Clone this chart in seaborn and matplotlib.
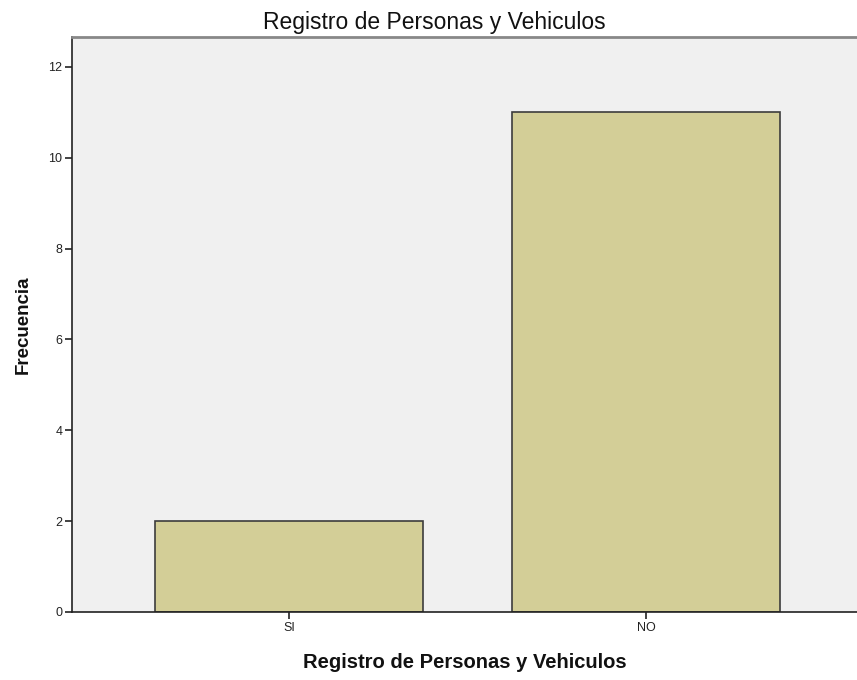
import matplotlib
matplotlib.use("Agg")
import matplotlib.pyplot as plt
import seaborn as sns
import pandas as pd

categories = ["SI", "NO"]
frecuencia = [2, 11]
y_ticks = [0, 2, 4, 6, 8, 10, 12]

sns.set_style("white")
plt.rcParams['font.family'] = ['Liberation Sans', 'DejaVu Sans']

df = pd.DataFrame({"registro": categories, "frecuencia": frecuencia})

fig = plt.figure(figsize=(8.57, 6.8), dpi=100)
ax = fig.add_axes([72 / 857, 68 / 680, 785 / 857, 575 / 680])
ax.set_facecolor("#F0F0F0")

sns.barplot(data=df, x="registro", y="frecuencia", order=categories,
            color="#D3CE97", saturation=1, width=0.75,
            edgecolor="#3C3C3C", linewidth=1.2, ax=ax)

ax.set_xlim(-0.608, 1.591)
ax.set_ylim(0, 12.66)
ax.set_yticks(y_ticks)
ax.tick_params(axis="both", direction="out", length=5, width=1.2,
               color="#222222", labelsize=9, pad=2, labelcolor="#222222")
ax.tick_params(axis="y", left=True)
ax.tick_params(axis="x", bottom=True)

for side in ["left", "bottom"]:
    ax.spines[side].set_color("#222222")
    ax.spines[side].set_linewidth(1.2)
ax.spines["top"].set_color("#888888")
ax.spines["top"].set_linewidth(2)
ax.spines["right"].set_visible(False)

# title is centred on the figure, not the axes
ax.set_title("Registro de Personas y Vehiculos", fontsize=16.5, pad=6,
             x=(434 - 72) / 785, color="#111111")
ax.set_xlabel("Registro de Personas y Vehiculos", fontsize=14.5,
              fontweight="bold", labelpad=14, color="#111111")
ax.set_ylabel("Frecuencia", fontsize=13.5, fontweight="bold",
              labelpad=12, color="#111111")

fig.savefig("out.png", dpi=100)
